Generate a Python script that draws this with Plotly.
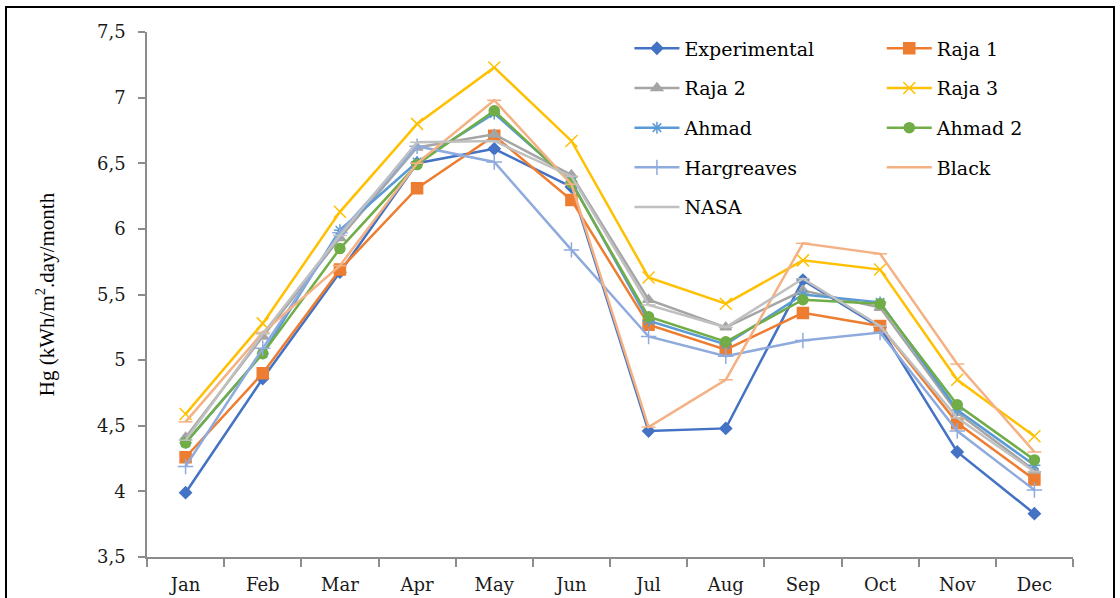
import plotly.graph_objects as go

months = ["Jan", "Feb", "Mar", "Apr", "May", "Jun", "Jul", "Aug", "Sep", "Oct", "Nov", "Dec"]

experimental = [3.99, 4.86, 5.67, 6.50, 6.61, 6.32, 4.46, 4.48, 5.61, 5.25, 4.30, 3.83]
raja1 = [4.26, 4.90, 5.69, 6.31, 6.71, 6.22, 5.27, 5.08, 5.36, 5.26, 4.52, 4.09]
raja2 = [4.41, 5.18, 5.93, 6.62, 6.72, 6.41, 5.46, 5.25, 5.53, 5.40, 4.60, 4.16]
raja3 = [4.59, 5.28, 6.13, 6.80, 7.23, 6.67, 5.63, 5.43, 5.76, 5.69, 4.85, 4.42]
ahmad = [4.37, 5.05, 5.99, 6.51, 6.88, 6.36, 5.30, 5.12, 5.50, 5.44, 4.62, 4.20]
ahmad2 = [4.37, 5.05, 5.85, 6.49, 6.90, 6.35, 5.33, 5.14, 5.46, 5.43, 4.66, 4.24]
hargreaves = [4.19, 5.09, 5.97, 6.63, 6.51, 5.84, 5.18, 5.03, 5.15, 5.21, 4.46, 4.01]
black = [4.53, 5.21, 5.72, 6.50, 6.98, 6.34, 4.49, 4.85, 5.89, 5.81, 4.97, 4.30]
nasa = [4.39, 5.20, 5.95, 6.66, 6.67, 6.40, 5.42, 5.25, 5.62, 5.26, 4.56, 4.15]

series = [
    ("Experimental", experimental, "#4472C4", "diamond", 9, 2.5, "legend"),
    ("Raja 1", raja1, "#ED7D31", "square", 11, 2.5, "legend2"),
    ("Raja 2", raja2, "#A5A5A5", "triangle-up", 10, 2.5, "legend"),
    ("Raja 3", raja3, "#FFC000", "x-thin-open", 12, 2.5, "legend2"),
    ("Ahmad", ahmad, "#5B9BD5", "asterisk-open", 10, 2.5, "legend"),
    ("Ahmad 2", ahmad2, "#70AD47", "circle", 10, 2.5, "legend2"),
    ("Hargreaves", hargreaves, "#8FAADC", "cross-thin-open", 11, 2.5, "legend"),
    ("Black", black, "#F4B183", "line-ew-open", 10, 2.5, "legend2"),
    ("NASA", nasa, "#C0C0C0", "line-ew-open", 10, 2.5, "legend"),
]

WIDE = "DejaVu Serif, serif"
SERIF = "Liberation Serif, Times New Roman, serif"

fig = go.Figure()
for name, vals, col, sym, size, lw, leg in series:
    fig.add_trace(go.Scatter(
        x=months, y=vals, name=name, mode="lines+markers",
        line=dict(color=col, width=lw),
        marker=dict(symbol=sym, size=size, color=col, line=dict(color=col, width=1.5)),
        legend=leg, legendgroup=name,
    ))

legend_common = dict(
    font=dict(family=WIDE, size=19, color="#000000"),
    bgcolor="rgba(0,0,0,0)", traceorder="grouped", tracegroupgap=12,
    itemwidth=45, yanchor="top", xanchor="left", orientation="v",
)

fig.update_layout(
    width=1120, height=598,
    font=dict(family=WIDE, size=18, color="#000000"),
    margin=dict(l=147, r=47, t=32, b=41, autoexpand=False),
    paper_bgcolor="white", plot_bgcolor="white",
    separators=",.",
    showlegend=True,
    legend=dict(x=0.521, y=1.005, **legend_common),
    legend2=dict(x=0.7935, y=1.005, **legend_common),
    xaxis=dict(
        type="category", showgrid=False, showline=True, linecolor="#8c8c8c", linewidth=1.5,
        ticks="outside", tickson="boundaries", ticklen=8, tickcolor="#8c8c8c", tickwidth=1.5,
        tickfont=dict(family=WIDE, size=18, color="#1a1a1a"),
        ticklabelstandoff=11, automargin=False,
        range=[-0.5, 11.5],
    ),
    yaxis=dict(
        range=[3.5, 7.5], dtick=0.5, tick0=3.5, showgrid=False, zeroline=False,
        showline=True, linecolor="#8c8c8c", linewidth=1.5,
        ticks="outside", ticklen=7, tickcolor="#8c8c8c", tickwidth=1.5,
        tickfont=dict(family=WIDE, size=18, color="#1a1a1a"),
        ticklabelstandoff=9, automargin=False,
        title=dict(text="Hg (kWh/m<sup>2</sup>.day/month", standoff=37,
                   font=dict(family=SERIF, size=21, color="#000000")),
    ),
)

fig.add_shape(type="rect", xref="paper", yref="paper",
              x0=(6 - 147) / 926, x1=(1114 - 147) / 926,
              y0=-0.2, y1=1 + (32 - 7) / 525,
              line=dict(color="#000000", width=2), layer="below")

fig.write_html("out.html", config={"displayModeBar": False},
               post_script="document.body.style.margin='0';")
